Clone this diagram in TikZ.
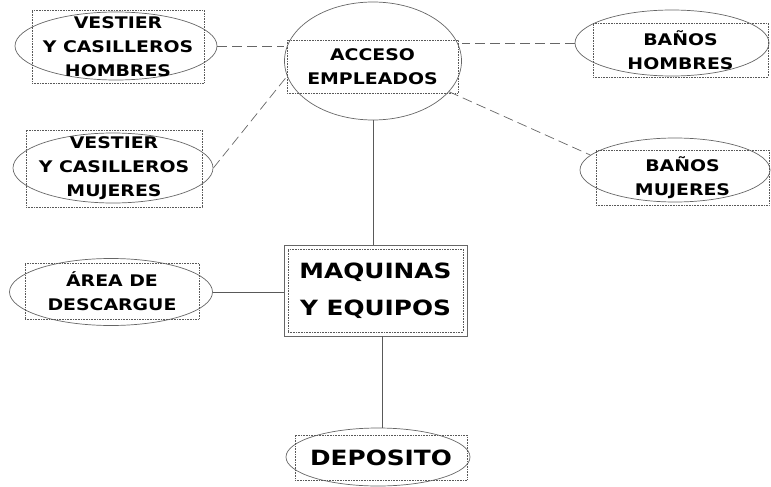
\documentclass[tikz,border=0pt]{standalone}
\usepackage{fontspec}
\usetikzlibrary{shapes.geometric}
\newfontfamily\rotulo[FakeStretch=1.18]{DejaVu Sans}
\begin{document}
\begin{tikzpicture}[x=1pt, y=-1pt,
  zona/.style={draw=black!60, line width=0.7pt, ellipse, inner sep=0pt},
  marco/.style={draw=black!65, line width=0.6pt, densely dotted, inner sep=0pt, align=center, font=\rotulo\bfseries\fontsize{16}{24}\selectfont},
  grande/.style={font=\rotulo\bfseries\fontsize{21}{37}\selectfont},
  enlace/.style={draw=black!60, line width=0.7pt, dash pattern=on 10pt off 5pt},
  linea/.style={draw=black!65, line width=0.7pt}]
\useasboundingbox (0,0) rectangle (771,487);

% zonas (elipses)
\node[zona, minimum width=202pt, minimum height=68pt] (vh) at (116,46) {};
\node[zona, minimum width=177pt, minimum height=118pt] (acc) at (373,61) {};
\node[zona, minimum width=194pt, minimum height=66pt] (bh) at (672,43) {};
\node[zona, minimum width=200pt, minimum height=70pt] (vm) at (113,168) {};
\node[zona, minimum width=190pt, minimum height=64pt] (bm) at (675,170) {};
\node[zona, minimum width=203pt, minimum height=67pt] (ad) at (111,292) {};
\node[zona, minimum width=184pt, minimum height=58pt] (dep) at (378,457) {};
\node[draw=black!60, line width=0.7pt, minimum width=183pt, minimum height=91pt] (maq) at (375.5,290.5) {};

% marcos punteados con texto
\node[marco, minimum width=172pt, minimum height=73pt] (vhtxt) at (118,46.5) {VESTIER\\Y CASILLEROS\\HOMBRES};
\node[marco, minimum width=171pt, minimum height=53pt] (acctxt) at (372.5,66.5) {ACCESO\\EMPLEADOS};
\node[marco, minimum width=175pt, minimum height=54pt] (bhtxt) at (680.5,50) {BAÑOS\\HOMBRES};
\node[marco, minimum width=176pt, minimum height=77pt] (vmtxt) at (114,168.5) {VESTIER\\Y CASILLEROS\\MUJERES};
\node[marco, minimum width=173pt, minimum height=55pt] (bmtxt) at (682.5,177.5) {BAÑOS\\MUJERES};
\node[marco, minimum width=174pt, minimum height=56pt] (adtxt) at (112,291) {ÁREA DE\\DESCARGUE};
\node[marco, grande, minimum width=175pt, minimum height=83pt] (maqtxt) at (maq) {MAQUINAS\\Y EQUIPOS};
\node[marco, grande, minimum width=172pt, minimum height=45pt] (deptxt) at (381,457.5) {DEPOSITO};

% enlaces
\draw[enlace] (vh.east) -- (vh.east -| acc.west);
\draw[enlace] (bh.west) -- (bh.west -| acc.east);
\draw[enlace] (vm.east) -- (acc.190);
\draw[enlace] (acc.-22) -- (bm.170);
\draw[linea] (acc.south) -- (acc.south |- maq.north);
\draw[linea] (ad.east) -- (ad.east -| maq.west);
\draw[linea] ([xshift=7pt]maq.south) -- ([xshift=7pt]maq.south |- dep.north);
\end{tikzpicture}
\end{document}
